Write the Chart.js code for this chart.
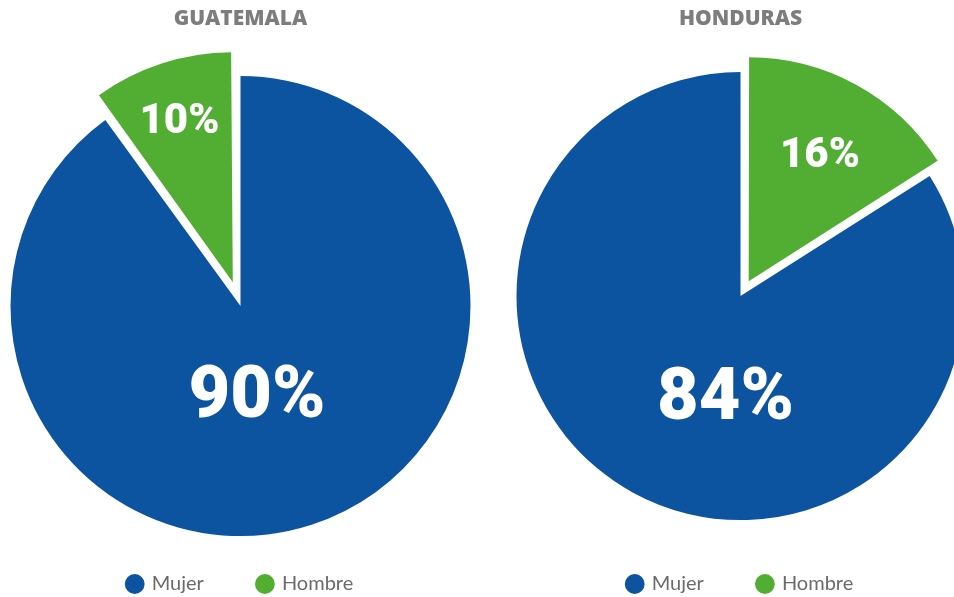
<!DOCTYPE html>
<html>
<head>
<meta charset="utf-8">
<script src="https://cdn.jsdelivr.net/npm/chart.js"></script>
<style>
  html, body { margin: 0; padding: 0; background: #fff; overflow: hidden; width: 954px; height: 597px; }
  .box { position: absolute; top: 0; }
  #gt { left: 0; }
  #hn { left: 500px; }
</style>
</head>
<body>
<div class="box" id="gt"><canvas id="chartGt" width="481" height="604"></canvas></div>
<div class="box" id="hn"><canvas id="chartHn" width="481" height="604"></canvas></div>
<script>
// data
var categories = ['Mujer', 'Hombre'];
var countries = ['GUATEMALA', 'HONDURAS'];
var guatemalaValues = [90, 10];
var hondurasValues = [84, 16];

var BLUE = '#0c53a0';
var GREEN = '#52ad33';

// Chart.js v4 moves an arc by offset/4 and also grows its radius a bit,
// so pull the radius back to match the other slice
var keepRadius = {
    id: 'keepRadius',
    afterDatasetsUpdate: function(chart) {
        var meta = chart.getDatasetMeta(0);
        meta.data.forEach(function(arc) {
            var off = (arc.options.offset || 0) / 4;
            var circ = arc.endAngle - arc.startAngle;
            var fix = 1 - Math.sin(Math.min(Math.PI, circ));
            arc.outerRadius = arc.outerRadius - off * fix;
        });
    }
};

// draws the "90%" style labels inside the slices
// place = [fraction of radius, angle nudge in degrees] per slice
var sliceLabels = {
    id: 'sliceLabels',
    afterDatasetsDraw: function(chart, args, opts) {
        var ctx = chart.ctx;
        var meta = chart.getDatasetMeta(0);
        var values = chart.data.datasets[0].data;
        meta.data.forEach(function(arc, i) {
            var p = arc.getProps(['x', 'y', 'startAngle', 'endAngle'], true);
            var mid = (p.startAngle + p.endAngle) / 2;
            var off = (arc.options.offset || 0) / 4;
            var cx = p.x + Math.cos(mid) * off;
            var cy = p.y + Math.sin(mid) * off;
            var place = opts.place[i];
            var a = mid + place[1] * Math.PI / 180;
            var r = opts.radius * place[0];
            var size = opts.sizes[i];
            ctx.save();
            ctx.fillStyle = '#fff';
            ctx.font = '900 ' + size + 'px Roboto, "Open Sans", sans-serif';
            ctx.textAlign = 'center';
            ctx.textBaseline = 'alphabetic';
            ctx.fillText(values[i] + '%', cx + Math.cos(a) * r, cy + Math.sin(a) * r + size * 0.355);
            ctx.restore();
        });
    }
};

function makePie(id, title, values, cfg) {
    return new Chart(document.getElementById(id), {
        type: 'pie',
        data: {
            labels: categories,
            datasets: [{
                data: values,
                backgroundColor: [BLUE, GREEN],
                borderWidth: 0,
                offset: [0, cfg.explode * 4],
                clip: false
            }]
        },
        options: {
            responsive: false,
            animation: false,
            radius: cfg.radius,
            rotation: cfg.rotation,
            layout: { padding: 0 },
            plugins: {
                title: {
                    display: true,
                    text: title,
                    color: '#7d7d7d',
                    font: { family: '"Open Sans", sans-serif', size: 21, weight: '800' },
                    padding: { top: 6, bottom: cfg.titleGap }
                },
                legend: {
                    position: 'bottom',
                    labels: {
                        usePointStyle: true,
                        pointStyle: 'circle',
                        boxWidth: 14,
                        boxHeight: 14,
                        padding: 54,
                        color: '#6b6b6b',
                        font: { family: 'Lato, sans-serif', size: 20 }
                    }
                },
                tooltip: { enabled: false },
                sliceLabels: { place: cfg.place, sizes: [72, 42], radius: cfg.radius }
            }
        },
        plugins: [keepRadius, sliceLabels]
    });
}

makePie('chartGt', countries[0], guatemalaValues, {
    radius: 230, rotation: 0, explode: 25, titleGap: 61,
    place: [[0.377, 7], [0.75, 0]]
});
makePie('chartHn', countries[1], hondurasValues, {
    radius: 224, rotation: 57.6, explode: 17, titleGap: 41,
    place: [[0.44, -20], [0.66, 0]]
});
</script>
</body>
</html>
